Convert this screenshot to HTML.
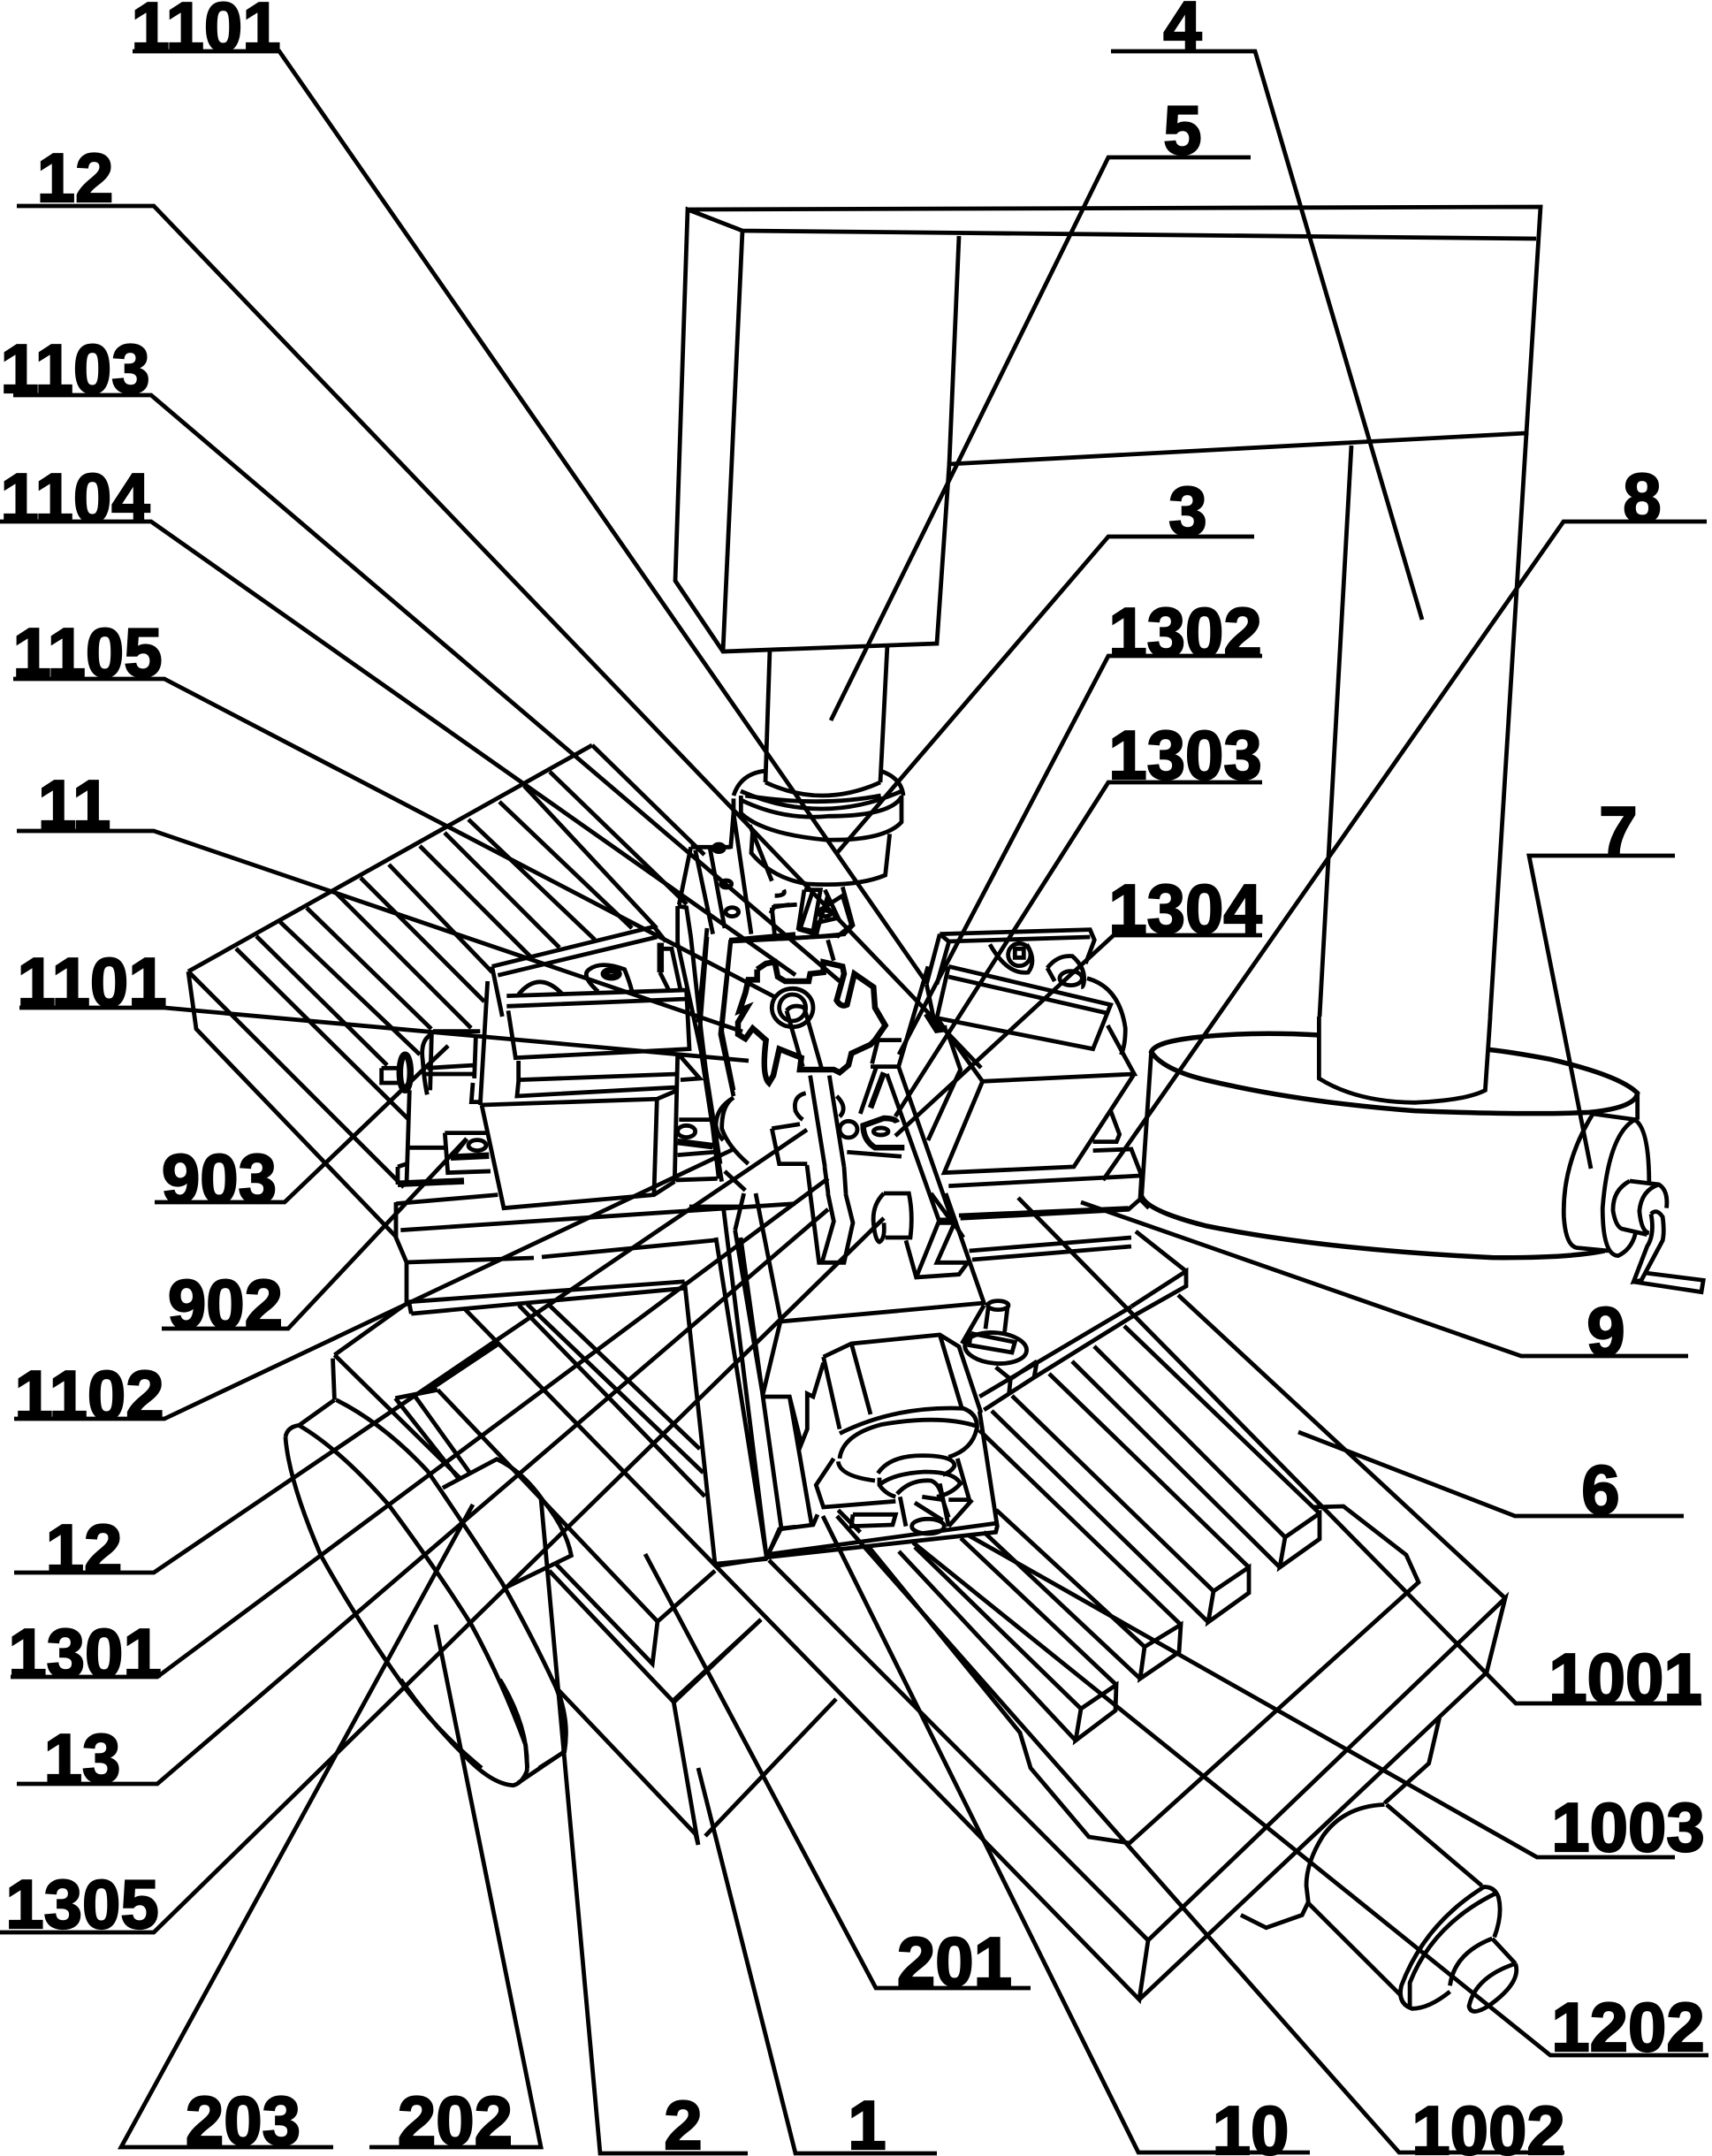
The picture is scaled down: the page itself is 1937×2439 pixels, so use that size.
<!DOCTYPE html>
<html><head><meta charset="utf-8"><style>
html,body{margin:0;padding:0;background:#fff}
svg{display:block}
path,ellipse{fill:none;stroke:#000;stroke-width:4.8;vector-effect:non-scaling-stroke;stroke-linejoin:miter}
.b{stroke-width:7.5}
text{font-family:"Liberation Sans",sans-serif;font-weight:700;font-size:78px;text-anchor:middle;fill:#000;stroke:#000;stroke-width:2.2}
</style></head><body>
<svg width="1937" height="2439" viewBox="0 0 1937 2439" xmlns="http://www.w3.org/2000/svg">
<!-- leaders -->
<path d="M150 58H316L1045 1107"/>
<path d="M1257 58H1420L1609 701"/>
<path d="M1415 178H1254L940 815"/>
<path d="M19 233H174L1110 1208"/>
<path d="M15 447H171L950 1110"/>
<path d="M0 590H171L900 1103"/>
<path d="M15 768H186L877 1128"/>
<path d="M19 940H174L840 1167"/>
<path d="M22 1140H186L847 1200"/>
<path d="M175 1360H322L507 1183"/>
<path d="M183 1503H326L528 1288"/>
<path d="M16 1605H186L830 1300"/>
<path d="M16 1779H174L913 1278"/>
<path d="M12 1897H178L937 1333"/>
<path d="M19 2018H178L937 1368"/>
<path d="M0 2186H174L1000 1378"/>
<path d="M1419 607H1254L947 965"/>
<path d="M1428 742H1254L1017 1193"/>
<path d="M1428 885H1254L1013 1263"/>
<path d="M1428 1058H1260L1013 1285"/>
<path d="M1931 590H1769L1248 1335"/>
<path d="M1895 968H1730L1800 1322"/>
<path d="M1910 1534H1721L1223 1360"/>
<path d="M1905 1715H1714L1469 1620"/>
<path d="M1925 1927H1715L1152 1355"/>
<path d="M1895 2101H1739L1096 1737"/>
<path d="M1933 2325H1754L1033 1745"/>
<path d="M1770 2435H1583L947 1715"/>
<path d="M1482 2435H1288L931 1715"/>
<path d="M1060 2436H900L790 2000"/>
<path d="M846 2436H679L612 1695"/>
<path d="M418 2429H612L493 1838"/>
<path d="M377 2429H137L535 1702"/>
<path d="M1166 2249H991L730 1758"/>
<!-- head and column -->
<path d="M778 237L1743 234L1727 490L1074 525L1060 728L818 737L764 657L778 237L840 261L1738 270"/>
<path d="M840 261L818 737M1085 267L1074 525M1529 504L1493 1150M1727 490L1686 1150"/>
<path d="M871 734L866 885M1004 729L996 885M866 872Q838 875 830 900M996 872Q1020 880 1022 900M866 885Q930 915 996 885M838 895Q930 935 1020 895"/>
<!-- base lines, real coordinates -->
<path d="M526 1481L1289 2262L1299 2195L870 1765M1299 2195L1703 1808L1682 1892L1289 2262M1703 1808L1333 1465"/>
<path d="M983 1750L1154 1960L1166 2000L1232 2078L1278 2085L1605 1790L1591 1759L1520 1704L1485 1705"/>
<path d="M1238 1523L1454 1739M1213 1540L1448 1773M1272 1500L1493 1712M1187 1554L1413 1773M1145 1579L1373 1800M1122 1596L1367 1835M1108 1618L1336 1838"/>
<path d="M1127 1708L1295 1863M1113 1733L1290 1899M1087 1740L1263 1906M1035 1750L1223 1933M1017 1755L1217 1969"/>
<path d="M1454 1739L1493 1712L1493 1741L1448 1773L1454 1739M1373 1800L1413 1773L1413 1802L1367 1835L1373 1800M1295 1863L1336 1838L1334 1869L1290 1899L1295 1863M1223 1933L1263 1906L1262 1935L1217 1969L1223 1933"/>
<path d="M631 1911L787 2075L790 2087M762 1924L790 2087M798 2077L946 1922M762 1926L861 1832"/>
<!-- bar to the right of the lower carriage -->
<path d="M1280 1478L1342 1438V1455L1280 1490M1285 1393L1342 1438"/>
<!-- stem join -->
<path d="M913 1318L917 1350M933 1320L937 1350M955 1320L957 1350"/>
<!-- hatched left table -->
<path d="M213 1099L670 843M213 1099L222 1164L448 1399M213 1099L457 1343"/>
<path d="M267 1073L462 1266M290 1059L438 1205M317 1043L475 1193M347 1027L488 1164M380 1010L533 1163M408 993L548 1133M440 978L557 1100M475 957L600 1082M503 942L633 1072M530 927L673 1063M565 907L715 1050M593 889L743 1050M622 873L777 1023M670 843L797 967"/>
<path d="M448 1360V1400L460 1428V1473"/>
<path d="M460 1428L604 1423M613 1422L809 1403"/>
<!-- z4 : lower left -->
<g transform="translate(300,1400) scale(.3827)">
<path d="M425 190L1240 130M432 225L1238 150M425 190L432 225M425 190L205 347M205 347L580 715M385 475L510 450M385 475L570 710M440 465L605 695M510 450L1160 1135L1145 1260L860 965M840 985L1205 1370L1465 1130M1160 1135L1330 985"/>
<path d="M750 200L1300 765M775 197L1295 695M840 200L1285 625M1240 130L1330 965L1480 950L1525 860L1568 855M1490 945L1568 925"/>
<path d="M525 740L685 655Q760 690 820 775Q890 860 905 940L710 1035"/>
<path class="b" d="M480 450L690 310"/>
<path d="M60 590Q65 560 100 555L205 480M200 357L205 480M60 590Q70 720 165 940Q270 1130 420 1340Q520 1470 640 1568"/>
<path d="M100 555Q220 625 365 790Q510 985 610 1145Q700 1310 770 1500L775 1568"/>
<path d="M210 480Q350 550 480 690Q590 850 700 1020Q790 1180 860 1330Q900 1430 885 1520L810 1568"/>
</g>
<!-- z10 : disc bottom -->
<g transform="translate(280,1900) scale(.51,.344)">
<path d="M340 0Q400 130 475 240Q540 345 590 348Q610 340 620 300Q625 160 560 0M600 340L700 240Q720 150 680 0"/>
</g>
<!-- z6 : right bottom motor -->
<g transform="translate(1000,1900) scale(.478,.333)">
<path d="M1185 425Q1090 430 1040 530Q1000 620 1000 700L1005 760L1225 1075M1190 425L1415 700"/>
<path d="M1415 705Q1445 700 1455 740Q1465 800 1445 875M1420 705Q1280 830 1225 1040Q1215 1100 1250 1118Q1290 1118 1340 1060M1450 725Q1300 830 1245 1030L1245 1110"/>
<path d="M1185 420L1290 285L1315 130M1005 755L990 800L905 843L845 800"/>
<path d="M1440 880L1495 965M1340 1040Q1350 930 1440 880M1495 965Q1510 1030 1430 1110Q1390 1145 1385 1110Q1400 1010 1495 965"/>
</g>
<!-- z7 : round base and handwheel -->
<g transform="translate(1250,1150) scale(.4383,.3333)">
<path style="stroke-width:5.5" d="M555 63Q380 50 240 70Q130 85 120 120Q150 180 260 215Q500 290 800 320Q1100 335 1250 325Q1370 310 1375 260Q1330 200 1150 145Q1050 120 990 112"/>
<path d="M120 120L95 610"/>
<path style="stroke-width:5.5" d="M95 610Q110 660 260 710Q560 790 1000 818Q1200 820 1290 795"/>
<path d="M1375 260V350"/>
<path d="M553 0V210Q650 290 800 292Q930 285 982 250L995 0"/>
<path d="M1260 330Q1180 500 1185 680Q1190 780 1220 785L1300 795M1260 330L1370 350"/>
<path d="M1368 350Q1300 400 1285 650Q1285 810 1325 812Q1360 790 1370 735M1368 350Q1405 380 1405 565"/>
<path d="M1355 558L1430 570Q1455 590 1450 650M1355 558Q1310 590 1312 660Q1320 720 1340 722L1400 740M1430 570Q1385 590 1380 660Q1385 730 1405 735"/>
<path d="M1410 670Q1425 650 1440 680Q1445 730 1440 760L1385 895L1365 900L1400 780Q1420 740 1410 670M1395 870L1545 895L1540 935L1365 900"/>
</g>
<!-- z1 : left carriage -->
<g transform="translate(400,900) scale(.3333)">
<path d="M470 580L1020 445L1060 495M490 610L1030 480M470 580L505 750M520 680L1130 660M520 715L1135 690M525 730L550 890L1140 860L1130 660"/>
<path d="M560 900V965L1100 945M560 970L555 1020L1100 990M1100 880L1090 1310M1105 880L1175 960L1110 965"/>
<path d="M435 1050L1030 1030L1100 1000M1030 1030L1020 1350M435 1050L510 1400L1020 1355L1090 1310M455 630L430 1050"/>
<path d="M560 675Q630 590 710 675M830 665Q770 610 800 590Q840 560 920 590Q940 640 945 665"/>
<ellipse cx="875" cy="605" rx="25" ry="12" class="b"/>
<path class="b" d="M1042 500V600"/>
<path d="M1040 600L1070 660M1040 520H1080L1110 660"/>
<path d="M1100 375L1130 380L1145 480L1180 800L1240 1300M1100 375V500L1180 870L1215 1100L1250 1310M1200 450L1170 770M1280 490L1245 810L1290 1020M1280 490L1500 470M1145 175L1105 370M1145 175H1280M1160 185L1220 470M1210 180L1260 450M1290 60L1350 470M1290 60L1280 180M1290 10V60"/>
<ellipse cx="1265" cy="300" rx="18" ry="12"/><ellipse cx="1285" cy="395" rx="22" ry="15"/>
<ellipse cx="1240" cy="178" rx="18" ry="13" style="fill:#000"/>
<path d="M265 810Q225 830 235 900Q240 970 250 1015M265 810L260 1000M270 800H430M250 925L410 915M245 945L415 945M415 820L410 960M95 925H160M95 925V975H165"/>
<ellipse cx="175" cy="940" rx="18" ry="60" class="b"/>
<path d="M190 1000L180 1320M180 1195L310 1195M310 1145H450M310 1145L320 1280L465 1275M150 1260L180 1250M150 1260V1320"/>
<path class="b" d="M330 1228L460 1222M150 1318L375 1308"/>
<ellipse cx="420" cy="1187" rx="30" ry="18"/>
<path d="M345 1215L385 1165M405 975L400 1040H430"/>
<path d="M145 1385L490 1355M160 1475L1500 1385M1095 1305L1235 1300M1260 1275L1330 1340"/>
<path d="M1105 1100H1210"/><ellipse cx="1130" cy="1140" rx="30" ry="20"/>
<path class="b" d="M1100 1175L1220 1190"/><path d="M1100 1220L1225 1210"/>
</g>
<!-- z2 : right carriage + collar -->
<g transform="translate(800,900) scale(.3333)">
<path d="M115 0V60Q190 130 400 150Q600 155 660 90V0M115 15Q260 85 410 70Q620 70 660 5M130 0Q380 40 590 0M155 115L150 195Q220 280 340 300Q510 310 605 270L620 130"/>
<path d="M145 100L220 290M460 310L495 440L465 470M400 320L445 415L380 430L370 480M330 320H385L360 460L310 450L330 320M220 380L280 370M220 380L230 480M75 490Q280 490 470 470"/>
<path d="M790 470L1300 455L1315 490L1285 570M790 470L820 495L1300 480M790 470L745 640M820 500L780 640M820 580L1370 710L1310 860L780 755L820 580M820 615L1365 740M745 640L770 760"/>
<path class="b" d="M745 740L780 795L815 790"/>
<path d="M780 755L935 970L1450 945L1360 780M1450 945L1245 1260L805 1280L935 970M815 800L860 930L750 1170M1370 1070L1400 1150L1390 1175H1310M1310 1205L1440 1200L1475 1290L820 1325M1475 1290L1470 1370L1430 1405L860 1435M1470 1370L1500 1400"/>
<path d="M960 505Q1020 610 1090 600Q1120 560 1085 505"/><ellipse cx="1060" cy="540" rx="38" ry="38"/><path d="M1045 520H1075V550H1045Z"/>
<path d="M1155 585Q1190 540 1240 545Q1280 580 1280 620Q1280 650 1270 650M1155 585L1180 630"/><ellipse cx="1235" cy="620" rx="38" ry="24"/>
<path d="M1290 620Q1400 650 1420 790Q1420 850 1405 880"/>
<path d="M580 830H660M560 910L580 830M555 920H650L750 580M650 920L830 1435M610 945L790 1450M575 920L520 1080M785 1440H830L870 1500"/>
<path style="stroke-width:6.5" d="M670 1195H570Q530 1170 530 1120L600 1095Q640 1095 645 1110"/>
<ellipse cx="590" cy="1140" rx="25" ry="12"/>
<path d="M475 1210L660 1225"/><ellipse cx="480" cy="1133" rx="30" ry="28"/>
<path style="stroke-width:6.5" d="M600 940L555 1060"/>
</g>
<!-- z9 : gear -->
<g transform="translate(720,1000) scale(.3333)">
<path style="stroke-width:6.5" d="M410 290L440 270L470 265L480 315L505 330H585L590 305L635 300V265L700 280L705 305L680 395Q695 420 715 410L740 305L805 350L810 420L845 480L810 530L795 545L730 575L720 615L690 640L670 630H555L560 590L485 560L465 650L450 675Q425 650 440 530L395 490L370 525L345 510V470L375 420L350 430L370 370L380 325H410V290"/>
<ellipse cx="530" cy="420" rx="70" ry="65"/><ellipse cx="530" cy="420" rx="45" ry="45"/>
<path d="M510 430L565 620M570 420L630 630M510 430Q530 405 570 420M590 650L640 960M655 650L705 960"/>
<path d="M330 725Q290 750 290 830Q310 890 380 950M330 725Q270 760 270 820Q275 850 295 870M320 200L290 500L330 700M240 180L215 500L285 950M460 830L555 815M460 830L485 950H580"/>
<path d="M575 710Q530 720 540 770Q550 790 565 800M680 720Q720 760 690 790"/>
<path d="M455 100L470 75L545 70M470 40Q510 40 500 20M600 20L555 155L610 170L650 40M620 90L700 40L730 140L680 180M650 190L670 260"/>
<ellipse cx="640" cy="100" rx="20" ry="10"/>
<path d="M320 195L690 175"/>
</g>
<!-- z3 : lower carriage and motor -->
<g transform="translate(780,1350) scale(.3333)">
<path d="M90 150L262 1235M115 45L262 1235M174 150L312 1137M155 125L185 0M155 125L250 690M225 0L310 430L250 680M0 45H175M87 1265L262 1238L305 1140L420 1125L435 1090"/>
<path d="M250 690H340L380 850L400 800V680L420 690L455 575M340 690L415 1125M310 435L1000 372L870 0M820 0L890 95"/>
<path d="M410 0L440 235H525L555 100L530 0M470 0L490 95L450 235"/>
<path d="M660 0Q620 40 625 100Q630 160 645 165Q665 155 660 100M660 0H745Q760 70 750 150H665"/>
<path d="M735 160L770 285L915 275L945 235H840L900 100H845L770 285M915 75L1490 50M950 195L1500 150M960 225L1500 180"/>
<path d="M1500 385L985 690M1500 420L1170 625M1180 570L1090 630L1085 680M1180 570L1170 625L1000 735M1090 630L1040 590"/>
<ellipse cx="1040" cy="525" rx="105" ry="52" transform="rotate(5 1040 525)"/>
<ellipse cx="1048" cy="380" rx="35" ry="15"/>
<path d="M1015 385L1005 460M1080 385L1070 470M955 475L1105 505L1095 540L950 515L955 475M1000 380L925 510"/>
<path d="M455 555L550 510L850 480L915 520L990 745M455 555L510 800M550 510L615 750M850 480L925 730"/>
<path d="M510 815Q700 720 930 730Q985 750 975 810M510 900Q520 820 650 785Q850 750 975 790M975 800Q960 870 880 895M505 910Q510 960 630 975"/>
<path d="M640 950Q680 890 790 890Q900 890 900 925Q890 945 860 955M645 965V990Q665 1020 700 1030M650 985Q700 950 800 945Q900 945 920 985Q890 1020 840 1030M705 1020Q750 970 820 975Q850 985 860 1040"/>
<path d="M715 1030L735 1130M850 985L880 1130M765 1050L860 1110M790 1030L860 1040L880 1100"/>
<ellipse cx="810" cy="1130" rx="55" ry="25"/>
<path d="M490 900L430 990L455 1065L700 1045M880 1040L950 1040L910 900M960 1040L880 1130M985 740L1045 1130L1040 1150L265 1235M270 1225L1040 1120"/>
<path d="M555 1090H700L690 1125L550 1130L555 1090M505 1075L580 1150"/>
</g>
<!-- labels -->
<text x="233" y="57">1101</text><text x="1338" y="56">4</text><text x="1338" y="174">5</text>
<text x="85" y="228">12</text><text x="85" y="444">1103</text><text x="85" y="590">1104</text>
<text x="99" y="765">1105</text><text x="1344" y="605">3</text><text x="1341" y="742">1302</text>
<text x="1341" y="881">1303</text><text x="1341" y="1055">1304</text><text x="1858" y="590">8</text>
<text x="1831" y="967">7</text><text x="84" y="937">11</text><text x="104" y="1138">1101</text>
<text x="248" y="1360">903</text><text x="255" y="1502">902</text><text x="1817" y="1533">9</text>
<text x="101" y="1605">1102</text><text x="1811" y="1712">6</text><text x="95" y="1779">12</text>
<text x="96" y="1897">1301</text><text x="1839" y="1925">1001</text><text x="93" y="2016">13</text>
<text x="1842" y="2094">1003</text><text x="93" y="2181">1305</text><text x="1080" y="2246">201</text>
<text x="1842" y="2320">1202</text><text x="275" y="2426">203</text><text x="515" y="2426">202</text>
<text x="773" y="2431">2</text><text x="981" y="2431">1</text><text x="1415" y="2437">10</text><text x="1684" y="2437">1002</text>
</svg>
</body></html>
